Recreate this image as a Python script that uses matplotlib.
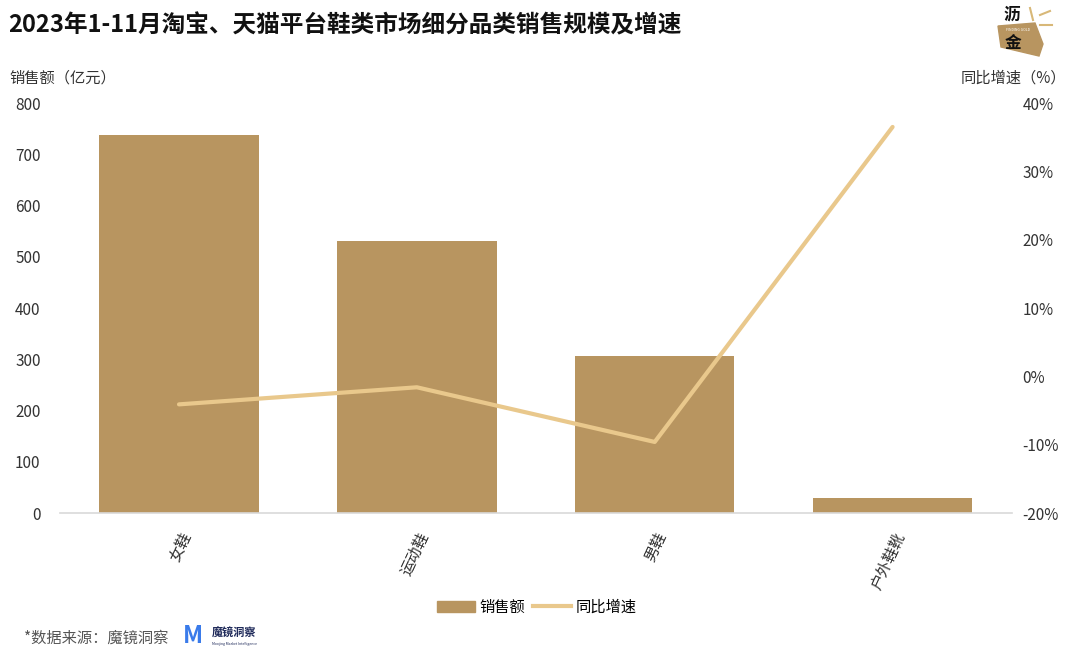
import matplotlib
matplotlib.use("Agg")
import matplotlib.pyplot as plt
from matplotlib.patches import Polygon, Patch
from matplotlib.lines import Line2D

plt.rcParams["font.family"] = ["Noto Sans CJK SC", "DejaVu Sans"]

categories = ["女鞋", "运动鞋", "男鞋", "户外鞋靴"]
sales = [738, 531, 306, 29]
growth = [-4.1, -1.6, -9.6, 36.5]

bar_color = "#B89560"
line_color = "#E9C88C"
text_color = "#333333"

W, H = 1080, 660
fig = plt.figure(figsize=(W / 100, H / 100), dpi=100)


def px(x, y):
    # pixel coords (from top-left) -> figure fraction
    return x / W, 1 - y / H


ax1 = fig.add_axes([0.0556, 0.2227, 0.881, 0.6212])
x = range(len(categories))
ax1.bar(x, sales, width=0.67, color=bar_color, zorder=2)
ax1.set_xlim(-0.5, len(categories) - 0.5)
ax1.set_ylim(0, 800)
ax1.set_yticks(range(0, 801, 100))
ax1.set_xticks(list(x))
ax1.set_xticklabels(categories, rotation=65, ha="right", va="top",
                    rotation_mode="anchor", fontsize=11, color=text_color)
ax1.tick_params(axis="x", length=0, pad=12)
ax1.tick_params(axis="y", length=0, labelsize=11, labelcolor=text_color, pad=14)
for s in ["top", "right", "left"]:
    ax1.spines[s].set_visible(False)
ax1.spines["bottom"].set_color("#D9D9D9")
ax1.spines["bottom"].set_linewidth(1.2)

ax2 = ax1.twinx()
ax2.plot(list(x), growth, color=line_color, lw=3, solid_capstyle="round", zorder=3)
ax2.set_ylim(-20, 40)
ax2.set_yticks(range(-20, 41, 10))
ax2.set_yticklabels(["{}%".format(v) for v in range(-20, 41, 10)])
ax2.tick_params(axis="y", length=0, labelsize=11, labelcolor=text_color, pad=8)
for s in ["top", "right", "left", "bottom"]:
    ax2.spines[s].set_visible(False)

fig.text(*px(8, 25), "2023年1-11月淘宝、天猫平台鞋类市场细分品类销售规模及增速",
         fontsize=17, fontweight="bold", color="#111111", va="center")
fig.text(*px(9, 78), "销售额（亿元）", fontsize=11, color=text_color, va="center")
fig.text(*px(1066, 78), "同比增速（%）", fontsize=11, color=text_color,
         va="center", ha="right")

# legend
handles = [Patch(color=bar_color, label="销售额"),
           Line2D([0], [0], color=line_color, lw=3, label="同比增速")]
fig.legend(handles=handles, loc="center", bbox_to_anchor=px(537, 607), ncol=2,
           frameon=False, fontsize=11, handlelength=2.5, handletextpad=0.3,
           columnspacing=0.5)

# source
fig.text(*px(24, 638), "*数据来源：魔镜洞察", fontsize=11, color="#555555", va="center")
fig.text(*px(183, 636), "M", fontsize=17, fontweight="bold", color="#3A7BEA",
         va="center", ha="left")
fig.text(*px(212, 633), "魔镜洞察", fontsize=8, fontweight="bold", color="#1F2A5A",
         va="center", ha="left")
fig.text(*px(212, 644), "Moojing Market Intelligence", fontsize=2.5, color="#1F2A5A",
         va="center", ha="left")

# logo
logo = Polygon([px(998, 26), px(1035, 23), px(1043, 44), px(1039, 56), px(1001, 47)],
               closed=True, transform=fig.transFigure, color="#B89560", zorder=1)
fig.patches.append(logo)
for (x0, y0, x1, y1) in [(1030, 8, 1033, 20), (1040, 15, 1050, 11), (1040, 25, 1052, 25)]:
    fig.add_artist(Line2D([x0 / W, x1 / W], [1 - y0 / H, 1 - y1 / H],
                          transform=fig.transFigure, color="#D8B878", lw=1.5))
fig.text(*px(1012, 15), "沥", fontsize=12, fontweight="bold", color="#111111",
         ha="center", va="center", zorder=3)
fig.text(*px(1018, 30), "FINDING GOLD", fontsize=2.5, color="white",
         ha="center", va="center", zorder=3)
fig.text(*px(1013, 43), "金", fontsize=12, fontweight="bold", color="#111111",
         ha="center", va="center", zorder=3)

fig.savefig("out.png", dpi=100)
